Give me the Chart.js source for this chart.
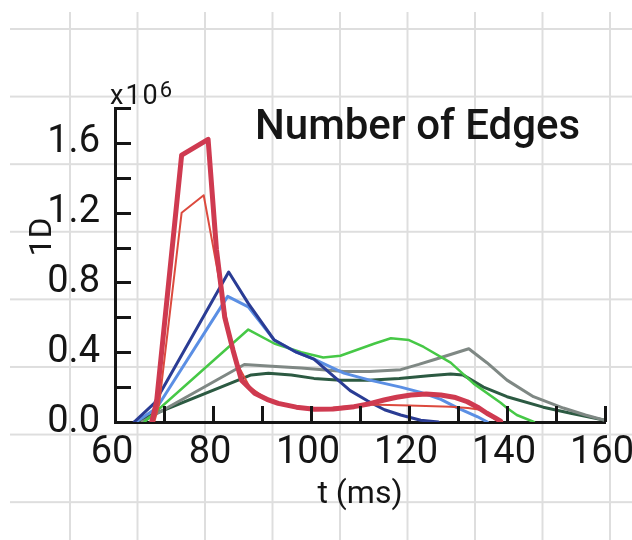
<!DOCTYPE html>
<html lang="en">
  <head>
    <meta charset="UTF-8" />
    <title>Number of Edges</title>
    <script src="https://cdn.jsdelivr.net/npm/chart.js"></script>
    <style>
      html, body { margin: 0; padding: 0; background: #fff; overflow: hidden; }
      #paper {
        position: absolute; left: 10px; top: 12px; right: 0; bottom: 0;
        background-image:
          linear-gradient(to right, #dedede 2px, transparent 2px),
          linear-gradient(to bottom, #dedede 2px, transparent 2px);
        background-size: 67.5px 67.6px;
        background-position: 59px 16px;
      }
      #wrap { position: absolute; left: 0; top: 0; width: 632px; height: 540px; }
    </style>
  </head>
  <body>
    <div id="paper"></div>
    <div id="wrap"><canvas id="chart"></canvas></div>

    <script>
      // values, y in units of 10^6
      const redThickT = [67.5, 68.5, 73.6, 79.0, 80.7, 82.4, 84.1, 85.8, 88.5, 91.0, 93.3, 97.0, 100.7, 104.5, 108.8, 112.0, 114.9, 117.5, 120.4, 123.5, 126.5, 129.5, 131.9, 134.0, 135.9, 137.5, 138.7];
      const redThickV = [0.00, 0.12, 1.53, 1.62, 0.99, 0.60, 0.41, 0.24, 0.165, 0.13, 0.107, 0.085, 0.073, 0.075, 0.088, 0.105, 0.126, 0.142, 0.155, 0.16, 0.155, 0.14, 0.116, 0.085, 0.05, 0.025, 0.005];

      const redThinT = [68.0, 69.0, 73.6, 78.1, 80.0, 81.3, 83.0, 85.0, 87.5, 90.0, 94.0, 98.0, 104.0, 111.6, 120.0, 128.5, 132.0, 134.6, 137.3, 138.5];
      const redThinV = [0.00, 0.10, 1.20, 1.30, 1.01, 0.81, 0.55, 0.33, 0.20, 0.15, 0.10, 0.075, 0.08, 0.10, 0.095, 0.088, 0.08, 0.07, 0.02, 0.00];

      const navyT = [63.9, 68.1, 83.2, 87.2, 92.5, 97.0, 100.6, 104.7, 108.0, 111.6, 115.0, 118.3, 122.4, 126.0];
      const navyV = [0.00, 0.11, 0.86, 0.68, 0.47, 0.40, 0.36, 0.26, 0.18, 0.12, 0.07, 0.04, 0.01, 0.00];

      const lightBlueT = [64.3, 68.5, 83.0, 87.2, 92.5, 97.0, 100.6, 106.7, 112.0, 118.3, 122.4, 126.5, 130.0, 134.0, 136.0];
      const lightBlueV = [0.00, 0.08, 0.72, 0.66, 0.47, 0.40, 0.36, 0.28, 0.24, 0.20, 0.17, 0.13, 0.08, 0.03, 0.00];

      const greenT = [66.0, 87.2, 92.5, 98.0, 102.5, 106.0, 110.0, 113.0, 116.3, 120.0, 123.0, 128.5, 133.2, 138.7, 140.0, 142.0, 145.5];
      const greenV = [0.00, 0.53, 0.45, 0.40, 0.37, 0.38, 0.42, 0.45, 0.48, 0.47, 0.43, 0.34, 0.22, 0.11, 0.08, 0.04, 0.00];

      const grayT = [65.5, 86.4, 92.0, 98.0, 106.7, 112.0, 118.3, 122.0, 125.4, 132.2, 135.9, 140.0, 145.4, 151.5, 156.0, 160.0];
      const grayV = [0.00, 0.33, 0.32, 0.31, 0.29, 0.29, 0.30, 0.33, 0.36, 0.42, 0.34, 0.24, 0.145, 0.08, 0.04, 0.01];

      const darkGreenT = [64.0, 87.8, 91.3, 96.0, 100.6, 106.0, 111.6, 118.0, 124.0, 128.5, 131.0, 135.2, 140.0, 147.4, 153.0, 160.0];
      const darkGreenV = [0.00, 0.27, 0.28, 0.27, 0.25, 0.24, 0.24, 0.25, 0.265, 0.275, 0.27, 0.20, 0.145, 0.085, 0.05, 0.01];

      const xTickStep = 10;
      const yTickStep = 0.2;

      const toPoints = (t, v) => t.map((x, i) => ({ x: x, y: v[i] }));

      const ink = "#151515";
      const fam = "Roboto, 'DejaVu Sans', sans-serif";
      Chart.defaults.font.family = fam;
      Chart.defaults.color = ink;

      function line(label, t, v, color, width) {
        return {
          label: label,
          data: toPoints(t, v),
          borderColor: color,
          backgroundColor: color,
          borderWidth: width,
          pointRadius: 0,
          tension: 0,
          borderJoinStyle: "round",
          borderCapStyle: "round",
        };
      }

      // inward tick marks + free text (title, exponent, y label)
      const decorations = {
        id: "decorations",
        afterDraw(chart) {
          const ctx = chart.ctx;
          const xs = chart.scales.x;
          const ys = chart.scales.y;
          const area = chart.chartArea;
          ctx.save();
          ctx.strokeStyle = ink;
          ctx.lineWidth = 3;
          ctx.lineCap = "butt";
          ctx.beginPath();
          ys.ticks.forEach((tk) => {
            if (tk.value <= 0) return;
            const py = Math.round(ys.getPixelForValue(tk.value)) + 0.5;
            ctx.moveTo(area.left, py);
            ctx.lineTo(area.left + 16, py);
          });
          xs.ticks.forEach((tk) => {
            if (tk.value <= xs.min) return;
            const px = Math.round(xs.getPixelForValue(tk.value)) + 0.5;
            ctx.moveTo(px, area.bottom);
            ctx.lineTo(px, area.bottom - 16);
          });
          ctx.stroke();

          ctx.fillStyle = ink;
          ctx.textBaseline = "alphabetic";
          ctx.textAlign = "left";
          ctx.font = "500 42px " + fam;
          ctx.fillText("Number of Edges", 255, 139);

          if ("letterSpacing" in ctx) ctx.letterSpacing = "2px";
          ctx.font = "27px " + fam;
          ctx.fillText("x10", 110, 104);
          const w = ctx.measureText("x10").width;
          ctx.font = "22px " + fam;
          ctx.fillText("6", 110 + w, 97);
          if ("letterSpacing" in ctx) ctx.letterSpacing = "0px";

          ctx.translate(43, 237);
          ctx.rotate(-Math.PI / 2);
          ctx.textAlign = "center";
          ctx.textBaseline = "middle";
          ctx.font = "32px " + fam;
          ctx.fillText("1D", 0, 0);
          ctx.restore();
        },
      };

      new Chart(document.getElementById("chart"), {
        type: "line",
        data: {
          datasets: [
            line("red (thick)", redThickT, redThickV, "#cf3a50", 5),
            line("red (thin)", redThinT, redThinV, "#dc4a3e", 2),
            line("navy", navyT, navyV, "#2a3c94", 3),
            line("light blue", lightBlueT, lightBlueV, "#5b8fe4", 3),
            line("green", greenT, greenV, "#46c846", 2.5),
            line("gray", grayT, grayV, "#7f8884", 3),
            line("dark green", darkGreenT, darkGreenV, "#2c5a42", 3),
          ],
        },
        options: {
          responsive: true,
          maintainAspectRatio: false,
          animation: false,
          layout: { padding: { top: 108, right: 27, left: 0, bottom: 0 } },
          plugins: { legend: { display: false }, tooltip: { enabled: false } },
          scales: {
            x: {
              type: "linear",
              min: 60,
              max: 160,
              grid: { display: false },
              border: { display: true, color: ink, width: 3 },
              ticks: {
                stepSize: xTickStep,
                autoSkip: false,
                maxRotation: 0,
                padding: 1,
                labelOffset: -3,
                font: { size: 38 },
                color: ink,
                callback: (v) => (v % 20 === 0 ? String(v) : ""),
              },
              title: {
                display: true,
                text: "t (ms)",
                font: { size: 32 },
                color: ink,
                padding: { top: 0, bottom: 26 },
              },
              afterFit(axis) {
                axis.height = 118;
                axis.paddingLeft = 0;
                axis.paddingRight = 0;
              },
            },
            y: {
              min: 0,
              max: 1.8,
              grid: { display: false },
              border: { display: true, color: ink, width: 3 },
              ticks: {
                stepSize: yTickStep,
                autoSkip: false,
                padding: 7,
                font: { size: 38 },
                color: ink,
                callback: (v) => (Math.round(v * 10) % 4 === 0 ? v.toFixed(1) : ""),
              },
              afterFit(axis) {
                axis.width = 115;
                axis.paddingTop = 0;
                axis.paddingBottom = 0;
              },
            },
          },
        },
        plugins: [decorations],
      });
    </script>
  </body>
</html>
